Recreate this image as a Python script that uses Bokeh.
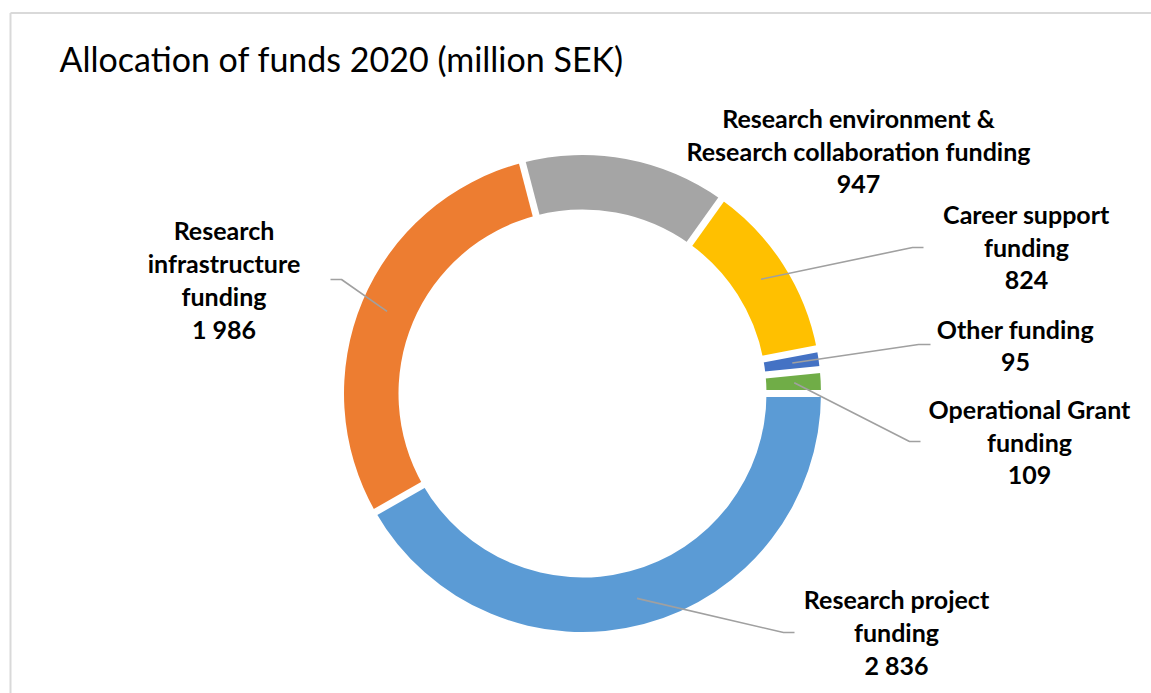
import math
from bokeh.plotting import figure
from bokeh.models import Range1d, ColumnDataSource
from bokeh.core.properties import value
from bokeh.embed import file_html
from bokeh.resources import INLINE

# ---------------- data ----------------
categories = ["Research project funding", "Research infrastructure funding",
              "Research environment & Research collaboration funding",
              "Career support funding", "Other funding", "Operational Grant funding"]
amounts = [2836, 1986, 947, 824, 95, 109]
label_texts = ["Research project\nfunding", "Research\ninfrastructure\nfunding",
               "Research environment &\nResearch collaboration funding",
               "Career support\nfunding", "Other funding", "Operational Grant\nfunding"]
colors = ["#5B9BD5", "#ED7D31", "#A5A5A5", "#FFC000", "#4472C4", "#70AD47"]
title_text = "Allocation of funds 2020 (million SEK)"

# ---------------- layout (page pixel coordinates) ----------------
W, H = 1151, 693
def px(x):  # page x -> data x
    return x
def py(y):  # page y -> data y
    return H - y

CX, CY = px(582), py(393)
R_OUT, R_IN = 238.5, 184.0
R_LEAD = 212.0
GAP = 7

LABEL_SIZE = 25
TITLE_SIZE = 34
BASE_FIX = 0.4   # renderer baseline correction (fraction of font size)

label_pos = [(896, 608), (223.5, 239), (858, 127), (1026, 223), (1015, 338), (1029, 418)]
LINE_STEP = 33
elbows = [[(783, 632), (794, 632)],
          [(341, 279), (330, 279)],
          None,
          [(912, 247), (923, 247)],
          [(918, 344), (930, 344)],
          [(909, 441), (920, 441)]]

FONT = "Lato"

p = figure(width=W, height=H, output_backend="svg", toolbar_location=None,
           x_range=Range1d(0, W), y_range=Range1d(0, H), min_border=0)
p.axis.visible = False
p.grid.visible = False
p.outline_line_color = None
p.background_fill_color = "white"
p.border_fill_color = "white"

# frame lines (top and left)
p.segment(x0=[px(10), px(10)], y0=[py(12.5), py(12.5)], x1=[px(1151), px(10)], y1=[py(12.5), py(693)],
          line_color="#D9D9D9", line_width=2)

# ---------------- donut ----------------
total = float(sum(amounts))
cum = [0.0]
for a in amounts:
    cum.append(cum[-1] + a / total * 2 * math.pi)
starts = [-cum[i + 1] for i in range(len(amounts))]
ends = [-cum[i] for i in range(len(amounts))]

src = ColumnDataSource(dict(x=[CX] * len(amounts), y=[CY] * len(amounts),
                            start=starts, end=ends, color=colors, name=categories))
p.annular_wedge(x="x", y="y", inner_radius=R_IN, outer_radius=R_OUT,
                start_angle="start", end_angle="end", fill_color="color",
                line_color=None, source=src)

# white separators between slices
sx0, sy0, sx1, sy1 = [], [], [], []
for c in cum[:-1]:
    a = -c
    sx0.append(CX + (R_IN - 3) * math.cos(a)); sy0.append(CY + (R_IN - 3) * math.sin(a))
    sx1.append(CX + (R_OUT + 3) * math.cos(a)); sy1.append(CY + (R_OUT + 3) * math.sin(a))
p.segment(x0=sx0, y0=sy0, x1=sx1, y1=sy1, line_color="white", line_width=GAP)

# leader lines
lxs, lys = [], []
for i in range(len(amounts)):
    if elbows[i] is None:
        continue
    mid = -(cum[i] + cum[i + 1]) / 2
    xs = [CX + R_LEAD * math.cos(mid)] + [px(e[0]) for e in elbows[i]]
    ys = [CY + R_LEAD * math.sin(mid)] + [py(e[1]) for e in elbows[i]]
    lxs.append(xs); lys.append(ys)
p.multi_line(xs=lxs, ys=lys, line_color="#A0A0A0", line_width=1.6)

# labels
tx, ty, tt = [], [], []
for i in range(len(amounts)):
    lines = label_texts[i].split("\n") + [f"{amounts[i]:,}".replace(",", " ")]
    cx, by = label_pos[i]
    for k, ln in enumerate(lines):
        tx.append(px(cx)); ty.append(py(by + k * LINE_STEP - BASE_FIX * LABEL_SIZE)); tt.append(ln)
p.text(x=tx, y=ty, text=tt, text_font=value(FONT), text_font_style="bold",
       text_font_size=f"{LABEL_SIZE}px", text_align="center", text_baseline="alphabetic",
       text_color="black")

# title
p.text(x=[px(59)], y=[py(72 - BASE_FIX * TITLE_SIZE)], text=[title_text], text_font=value(FONT),
       text_font_size=f"{TITLE_SIZE}px", text_align="left", text_baseline="alphabetic",
       text_color="black")

open("out.html", "w").write(file_html(p, INLINE))
